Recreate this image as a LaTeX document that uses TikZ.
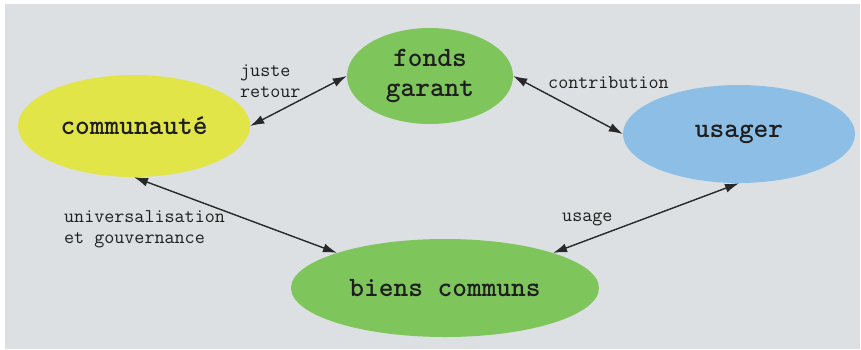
\documentclass[tikz,border=0pt]{standalone}
\usepackage{fontspec}
\usetikzlibrary{shapes.geometric,arrows.meta}
\definecolor{bggray}{RGB}{220,224,227}
\definecolor{cyellow}{RGB}{226,229,72}
\definecolor{cgreen}{RGB}{126,197,92}
\definecolor{cblue}{RGB}{141,191,230}
\definecolor{ink}{RGB}{30,30,30}
\definecolor{linec}{RGB}{40,40,40}
\tikzset{
  blob/.style={ellipse, inner sep=0pt, text=ink, align=center,
    font=\ttfamily\bfseries\fontsize{28}{30}\selectfont},
  lbl/.style={anchor=west, inner sep=0pt, text=ink, align=left,
    font=\ttfamily\fontsize{19.5}{21}\selectfont},
  link/.style={linec, line width=1.4pt, {Latex[length=14pt,width=9pt]}-{Latex[length=14pt,width=9pt]}}
}
\begin{document}
\begin{tikzpicture}[x=1pt,y=-1pt]
\useasboundingbox (0,0) rectangle (861,349);
\fill[white] (0,0) rectangle (861,349);
\fill[bggray] (5,4) rectangle (860,349);
\node[blob, fill=cyellow, minimum width=232pt, minimum height=102pt] (comm) at (134,126) {communauté};
\node[blob, fill=cgreen, minimum width=166pt, minimum height=96pt] (fonds) at (430,76) {fonds\\garant};
\node[blob, fill=cblue, minimum width=232pt, minimum height=98pt] (usager) at (739,134) {usager};
\node[blob, fill=cgreen, minimum width=308pt, minimum height=98pt] (biens) at (445,288) {biens communs};
\draw[link] (comm.0) -- (fonds.180);
\draw[link] (fonds.0) -- (usager.180);
\draw[link] (comm.270) -- (biens.162);
\draw[link] (biens.18) -- (usager.270);
\node[lbl] (l1) at (240,81) {juste\\retour};
\node[lbl] (l2) at (548,83) {contribution};
\node[lbl] (l3) at (64,229) {universalisation\\et gouvernance};
\node[lbl] (l4) at (562,219) {usage};
\end{tikzpicture}
\end{document}
